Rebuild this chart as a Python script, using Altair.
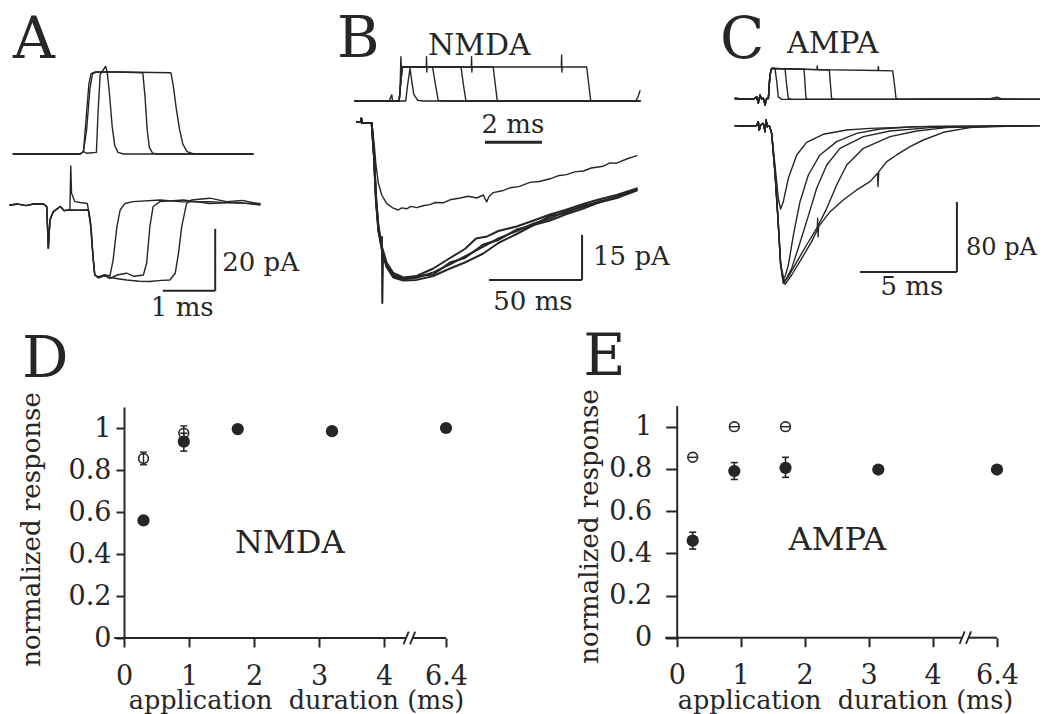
import altair as alt
import pandas as pd

FONT = "DejaVu Serif"
INK = "#262626"

# ---------------- Panel A : stimulus (top) and open-tip currents (bottom) ----------------
# x in ms, command in normalized units, current in pA
A_cmd_1 = [(0.06, 0), (1.30, 0), (1.36, 0.03), (1.42, 0.01), (1.60, 0.02), (1.63, 0.5), (1.67, 0.97),
           (1.70, 1.0), (1.77, 1.07), (1.80, 1.0), (1.84, 0.75), (1.89, 0.35), (1.94, 0.1), (2.0, 0.02),
           (2.1, 0), (4.5, 0)]
A_cmd_2 = [(0.06, 0), (1.30, 0), (1.36, 0.03), (1.42, 0.3), (1.48, 0.8), (1.53, 0.98), (1.60, 1.0),
           (2.0, 1.0), (2.46, 0.99), (2.50, 0.7), (2.54, 0.3), (2.58, 0.08), (2.64, 0.01), (2.75, 0), (4.5, 0)]
A_cmd_3 = [(0.06, 0), (1.30, 0), (1.36, 0.03), (1.40, 0.35), (1.46, 0.85), (1.50, 0.98), (1.58, 1.0),
           (2.0, 1.0), (2.98, 0.99), (3.02, 0.85), (3.08, 0.55), (3.14, 0.3), (3.2, 0.12), (3.28, 0.03),
           (3.4, 0), (4.5, 0)]

A_cur_pre = [(0, 0), (0.15, 0.3), (0.3, -0.2), (0.45, 0.4), (0.62, 0.3), (0.68, -0.5), (0.71, -14),
             (0.74, -4.8), (0.80, -2.2), (0.93, -0.5), (1.0, -1.8), (1.11, -1.6)]
A_cur_1 = A_cur_pre + [(1.125, 12.6), (1.14, 3.8), (1.20, 1.1), (1.30, 0.8), (1.43, 0.5), (1.48, -4),
                       (1.51, -9.1), (1.54, -17.7), (1.57, -22.6), (1.64, -23.1), (1.75, -22.5),
                       (1.85, -22.9), (1.91, -17.7), (1.98, -7), (2.04, -1.6), (2.13, 0.5), (2.28, 1.1),
                       (2.78, 1.6), (3.2, 1.0), (3.70, 1.1), (4.2, 0.6), (4.63, 0.5)]
A_cur_2 = A_cur_pre + [(1.25, -1.7), (1.45, -1.6), (1.49, -6), (1.53, -15), (1.57, -22.6), (1.64, -23.5),
                       (1.75, -22.8), (1.85, -23.7), (2.0, -22.5), (2.16, -22), (2.3, -23), (2.47, -22.6),
                       (2.53, -18.8), (2.59, -7), (2.65, -0.5), (2.78, 1.1), (3.21, 1.6), (3.70, 0.5),
                       (4.2, 0.9), (4.63, 0)]
A_cur_3 = A_cur_pre + [(1.25, -1.7), (1.45, -1.6), (1.49, -6), (1.53, -15), (1.57, -22.6), (1.64, -23.5),
                       (1.75, -22.8), (1.85, -23.4), (2.0, -23.8), (2.16, -24.2), (2.4, -24.6), (2.59, -24.7),
                       (2.8, -24.3), (2.96, -24.2), (3.06, -22), (3.12, -15.6), (3.18, -7), (3.27, 0.5),
                       (3.36, 1.6), (3.70, 2.2), (4.01, 1.1), (4.3, 1.5), (4.63, 0.3)]

# ---------------- Panel B : NMDA ----------------
# command: x in ms (fast time base), current: x in ms (slow time base), pA
B_cmd_1 = [(0, 0), (1.2, 0), (1.29, 0.18), (1.32, 0), (1.78, 0), (1.85, 0.5), (1.93, 0.96), (1.99, 0.6),
           (2.06, 0.2), (2.2, 0.02), (2.4, 0), (10, 0)]
B_cmd_2 = [(0, 0), (1.55, 0), (1.60, 0.5), (1.66, 1.0), (2.72, 1.0), (2.82, 0.5), (2.92, 0.02), (3.1, 0), (10, 0)]
B_cmd_3 = [(0, 0), (1.55, 0), (1.60, 0.5), (1.66, 1.0), (3.72, 1.0), (3.80, 0.5), (3.89, 0.02), (4.0, 0), (10, 0)]
B_cmd_4 = [(0, 0), (1.55, 0), (1.60, 0.5), (1.66, 1.0), (4.85, 1.0), (4.92, 0.5), (4.99, 0.02), (5.1, 0), (10, 0)]
B_cmd_5 = [(0, 0), (1.55, 0), (1.58, 0.3), (1.61, 1.3), (1.63, 0.9), (1.68, 1.0), (2.50, 1.0), (2.51, 1.3),
           (2.52, 0.85), (2.53, 1.0), (4.08, 1.0), (4.09, 1.3), (4.10, 0.85), (4.11, 1.0), (7.24, 1.0),
           (7.25, 1.35), (7.26, 0.85), (7.27, 1.0), (8.13, 1.0), (8.20, 0.5), (8.27, 0.02), (8.4, 0),
           (9.85, 0), (9.92, 0.1), (10.0, 0.3)]

B_cur_start = [(0, 0.3), (2, 0.3), (2.3, 1.5), (2.6, 0), (5, 0), (7.9, 0)]
B_cur_1 = B_cur_start + [(9.1, -10.7), (10.2, -25.1), (11.5, -35.1), (13.3, -41.8), (15.9, -47.3), (19.5, -50.7),
                         (24.9, -52), (32.1, -51.6), (41.0, -49.8), (50.0, -47.1), (58, -44.5), (67.9, -41.2),
                         (76, -38.5), (85.8, -36), (95, -33.5), (103.8, -31.8), (112, -29.5), (121.7, -27.9),
                         (130, -26.2), (139.6, -24.9), (150.4, -22.3)]
B_cur_2 = B_cur_start + [(9.1, -10), (10.2, -24), (11.5, -34), (13.3, -41), (15.9, -46.5), (19.5, -50),
                         (24.9, -51.5), (32.1, -51), (41, -48.5), (50, -45), (58, -42), (64, -38.5), (70, -37.8),
                         (76, -36), (85.8, -34.5), (95, -32.5), (103.8, -30.5), (112, -29), (121.7, -27),
                         (130, -25.5), (139.6, -24), (150.4, -21.8)]
B_cur_3 = B_cur_start + [(9.1, -11), (10.2, -26), (11.5, -36), (12.8, -40), (13.4, -38), (13.6, -60), (14.0, -44),
                         (15.9, -48), (19.5, -51.5), (24.9, -52.5), (32.1, -52.3), (41, -51), (50, -48.5),
                         (58, -46.5), (67.9, -43.5), (76, -40), (85.8, -37), (95, -34), (103.8, -32.5),
                         (112, -30.5), (121.7, -28.5), (130, -26.5), (139.6, -25), (150.4, -22.5)]
B_cur_4 = B_cur_start + [(9.1, -10.5), (10.2, -25.5), (11.5, -35.5), (13.3, -42), (15.9, -47.8), (19.5, -51),
                         (24.9, -52.2), (32.1, -51), (41, -50.5), (50, -46.5), (58, -45), (67.9, -40.5), (76, -39),
                         (85.8, -35.5), (95, -34), (103.8, -31), (112, -30), (121.7, -27.5), (130, -26.5),
                         (139.6, -24.5), (150.4, -22)]
B_cur_short = B_cur_start + [(9.1, -6.2), (10.2, -14), (11.5, -20.1), (13.3, -24), (15.9, -26.8), (19.5, -28.4),
                             (22.2, -29), (24, -28.3), (26.7, -28.6), (29, -27.8), (32.1, -28.2), (36, -27.5),
                             (39.2, -27.2), (42, -26.5), (46.4, -26.6), (50, -25.6), (55.4, -25), (60, -24.4),
                             (64.3, -25), (67.9, -24), (69.7, -26.3), (71, -24.5), (73.3, -23.2), (78, -22.6),
                             (82.3, -21.6), (87, -21.2), (93, -19.8), (98, -19.5), (103.8, -18.6), (108, -17.6),
                             (112.7, -17.2), (117, -16.3), (121.7, -16), (126, -15), (132.4, -14.4), (136, -13.3),
                             (139.6, -13.4), (145, -12), (150.4, -10.9)]

# ---------------- Panel C : AMPA ----------------
C_cmd_start = [(0, 0.05), (0.5, 0.03), (0.95, 0.03), (1.12, 0.1), (1.2, -0.1), (1.29, 0.16), (1.37, 0.03),
               (1.46, 0.06), (1.55, -0.16), (1.63, 0.05), (1.72, 0.05), (1.80, 0.8), (1.89, 1.02)]
C_cmd_1 = C_cmd_start + [(2.06, 1.02), (2.15, 0.6), (2.23, 0.1), (2.41, 0.02), (15.72, 0.02)]
C_cmd_2 = C_cmd_start + [(2.58, 1.0), (2.66, 0.5), (2.75, 0.05), (2.9, 0.02), (15.72, 0.02)]
C_cmd_3 = C_cmd_start + [(3.56, 0.99), (3.61, 0.5), (3.66, 0.05), (3.8, 0.02), (15.72, 0.02)]
C_cmd_4 = C_cmd_start + [(4.86, 0.97), (4.92, 0.5), (4.98, 0.05), (5.1, 0.02), (15.72, 0.02)]
C_cmd_5 = C_cmd_start + [(4.22, 0.98), (4.24, 1.1), (4.26, 0.98), (7.37, 0.95), (7.39, 1.08), (7.41, 0.95),
                         (8.13, 0.94), (8.22, 0.5), (8.30, 0.05), (8.5, 0.02), (10.05, 0.03), (12.5, 0.03),
                         (13.2, 0.05), (13.49, 0.09), (13.8, 0.03), (15.72, 0.02)]

C_cur_start = [(0, 0.4), (0.5, 0), (1.12, 0.4), (1.20, 5), (1.25, -4.6), (1.32, 1.1), (1.46, 3), (1.55, -6.5),
               (1.60, 6.9), (1.67, -0.8), (1.77, 0.4), (1.84, -4.6), (1.89, -8.4)]
C_cur_1 = C_cur_start + [(2.06, -44.6), (2.23, -82.7), (2.35, -94.9), (2.49, -86.5), (2.75, -59.8), (3.18, -33.1),
                         (3.69, -18.7), (4.55, -9.5), (5.76, -4.6), (6.96, -2.7), (10.05, -0.4), (15.72, 0.4)]
C_cur_2 = C_cur_start + [(2.06, -52.2), (2.23, -109.3), (2.35, -155), (2.46, -174.1), (2.58, -172.2),
                         (2.75, -158.9), (3.01, -124.6), (3.35, -86.5), (3.78, -56), (4.38, -33.1), (5.24, -17.9),
                         (6.27, -8.4), (7.47, -3.4), (9.19, -0.8), (15.72, 0.4)]
C_cur_3 = C_cur_start + [(2.06, -53), (2.23, -112), (2.35, -158), (2.49, -177.9), (2.66, -174.1), (2.92, -162.7),
                         (3.26, -139.8), (3.69, -109.3), (4.21, -71.2), (4.73, -44.6), (5.41, -25.5),
                         (6.62, -12.2), (7.99, -5.7), (10.05, -1.9), (15.72, 0.4)]
C_cur_4 = C_cur_start + [(2.06, -53), (2.23, -112), (2.35, -158), (2.49, -179.8), (2.75, -172.2), (3.09, -158.9),
                         (3.69, -136), (4.21, -117), (4.73, -94.1), (5.24, -67.4), (5.76, -44.6), (6.62, -25.5),
                         (7.99, -12.2), (9.36, -5.7), (10.91, -1.9), (15.72, 0.4)]
C_cur_5 = C_cur_start + [(2.06, -53), (2.23, -112), (2.35, -158), (2.58, -181), (2.92, -170.3), (3.44, -151.2),
                         (3.95, -132.2), (4.24, -118.9), (4.26, -105.5), (4.28, -126.5), (4.31, -115),
                         (4.90, -97.9), (5.58, -84.6), (6.27, -73.1), (6.96, -63.6), (7.35, -54.1),
                         (7.37, -69.3), (7.41, -52.2), (7.82, -40.8), (8.33, -33.1), (9.02, -23.6),
                         (9.71, -16), (10.74, -7.2), (12.11, -1.9), (13.49, 0), (15.72, 0.4)]

# ---------------- Panels D / E : normalized response vs application duration ----------------
D_dur = [0.3, 0.92, 1.75, 3.2, 6.4]
D_filled = [0.56, 0.935, 0.995, 0.985, 1.0]
D_filled_err_x = [0.92]
D_filled_lo = [0.89]
D_filled_hi = [0.975]
D_open_dur = [0.3, 0.92]
D_open = [0.855, 0.975]
D_open_lo = [0.825, 0.955]
D_open_hi = [0.885, 1.01]

E_dur = [0.25, 0.9, 1.7, 3.15, 6.4]
E_filled = [0.46, 0.79, 0.805, 0.797, 0.797]
E_filled_err_x = [0.25, 0.9, 1.7]
E_filled_lo = [0.42, 0.75, 0.76]
E_filled_hi = [0.50, 0.83, 0.855]
E_open_dur = [0.25, 0.9, 1.7]
E_open = [0.855, 1.0, 1.0]

X_TICKS = [0, 1, 2, 3, 4, 6.4]
Y_TICKS = [0, 0.2, 0.4, 0.6, 0.8, 1.0]

W = 1032  # drawing width (page is 1048 with 8px margins)
H = 706   # drawing height (page is 714 with an 8px top margin)


# ---------------- helpers ----------------
def S(domain, rng):
    return alt.Scale(domain=domain, range=rng, nice=False, zero=False)


def lines(traces, xs, ys, w=1.4):
    rows = []
    for name, pts in traces.items():
        for i, (x, y) in enumerate(pts):
            rows.append({"trace": name, "i": i, "x": x, "y": y})
    return alt.Chart(pd.DataFrame(rows)).mark_line(
        color=INK, strokeWidth=w, strokeJoin="round", strokeCap="round"
    ).encode(
        x=alt.X("x:Q", scale=xs, axis=None),
        y=alt.Y("y:Q", scale=ys, axis=None),
        detail="trace:N",
        order="i:Q",
    )


def rules(segs, xs, ys, w=2.0, color=INK, **kw):
    df = pd.DataFrame(segs, columns=["x", "y", "x2", "y2"])
    return alt.Chart(df).mark_rule(color=color, strokeWidth=w, **kw).encode(
        x=alt.X("x:Q", scale=xs, axis=None),
        y=alt.Y("y:Q", scale=ys, axis=None),
        x2="x2:Q",
        y2="y2:Q",
    )


def texts(items, xs, ys, align, baseline="alphabetic"):
    df = pd.DataFrame(items, columns=["x", "y", "label", "fs"])
    return alt.Chart(df).mark_text(font=FONT, color=INK, align=align, baseline=baseline).encode(
        x=alt.X("x:Q", scale=xs, axis=None),
        y=alt.Y("y:Q", scale=ys, axis=None),
        text="label:N",
        size=alt.Size("fs:Q", scale=None, legend=None),
    )


def x_axis(offset, title_x, title_y):
    return alt.Axis(
        orient="bottom", offset=offset, values=X_TICKS, labelExpr="datum.value + ''",
        domain=False, ticks=True, tickSize=9, tickWidth=2, tickColor=INK,
        labelFont=FONT, labelFontSize=27, labelColor=INK, labelPadding=16,
        labelFlush=False, labelOverlap=False, grid=False,
        title="application\u00a0\u00a0duration (ms)", titleFont=FONT, titleFontSize=25.5,
        titleFontWeight="normal", titleColor=INK, titleX=title_x, titleY=title_y,
        titleAlign="center", titleBaseline="alphabetic", titleAngle=0,
    )


def y_axis(offset, tick, pad, title_x, title_y):
    return alt.Axis(
        orient="left", offset=offset, values=Y_TICKS,
        labelExpr="datum.value == 0 ? '0' : datum.value == 1 ? '1' : format(datum.value, '.1f')",
        domain=True, domainColor=INK, domainWidth=2, ticks=True, tickSize=tick, tickWidth=2,
        tickColor=INK, labelFont=FONT, labelFontSize=27, labelColor=INK, labelPadding=pad,
        labelOverlap=False, grid=False,
        title="normalized response", titleFont=FONT, titleFontSize=26, titleFontWeight="normal",
        titleColor=INK, titleX=title_x, titleY=title_y, titleAngle=270, titleAlign="center",
        titleBaseline="alphabetic",
    )


def scatter_panel(xs, ys, dur, filled, fx, flo, fhi, odur, oval, olo, ohi, xax, yax,
                  axis_segs, break_segs, name, name_xy, letter_xy, theta):
    layers = []
    # x axis line with a break
    layers.append(rules(axis_segs, xs, ys, w=2))
    layers.append(rules(break_segs, xs, ys, w=1.8))
    # error bars of filled points
    fe = pd.DataFrame({"x": fx, "lo": flo, "hi": fhi})
    layers.append(alt.Chart(fe).mark_rule(color=INK, strokeWidth=1.6).encode(
        x=alt.X("x:Q", scale=xs, axis=None), y=alt.Y("lo:Q", scale=ys, axis=None), y2="hi:Q"))
    caps = pd.DataFrame({"x": fx + fx, "y": flo + fhi})
    layers.append(alt.Chart(caps).mark_rule(color=INK, strokeWidth=1.6, xOffset=-3.5, x2Offset=3.5).encode(
        x=alt.X("x:Q", scale=xs, axis=None), x2="x:Q", y=alt.Y("y:Q", scale=ys, axis=None)))
    # open points
    od = pd.DataFrame({"x": odur, "y": oval})
    if theta:
        layers.append(alt.Chart(od).mark_rule(color=INK, strokeWidth=1.4, xOffset=-4.5, x2Offset=4.5).encode(
            x=alt.X("x:Q", scale=xs, axis=None), x2="x:Q", y=alt.Y("y:Q", scale=ys, axis=None)))
    else:
        oe = pd.DataFrame({"x": odur, "lo": olo, "hi": ohi})
        layers.append(alt.Chart(oe).mark_rule(color=INK, strokeWidth=1.4).encode(
            x=alt.X("x:Q", scale=xs, axis=None), y=alt.Y("lo:Q", scale=ys, axis=None), y2="hi:Q"))
        oc = pd.DataFrame({"x": odur + odur, "y": olo + ohi})
        layers.append(alt.Chart(oc).mark_rule(color=INK, strokeWidth=1.4, xOffset=-3.5, x2Offset=3.5).encode(
            x=alt.X("x:Q", scale=xs, axis=None), x2="x:Q", y=alt.Y("y:Q", scale=ys, axis=None)))
    layers.append(alt.Chart(od).mark_point(shape="circle", filled=False, size=95, color=INK,
                                           strokeWidth=1.6, opacity=1).encode(
        x=alt.X("x:Q", scale=xs, axis=None), y=alt.Y("y:Q", scale=ys, axis=None)))
    # filled points carry the axes
    fd = pd.DataFrame({"x": dur, "y": filled})
    layers.append(alt.Chart(fd).mark_point(shape="circle", filled=True, size=150, color=INK,
                                           opacity=1).encode(
        x=alt.X("x:Q", scale=xs, axis=xax), y=alt.Y("y:Q", scale=ys, axis=yax)))
    layers.append(texts([(name_xy[0], name_xy[1], name, 32)], xs, ys, "center"))
    layers.append(texts([(letter_xy[0], letter_xy[1], letter_xy[2], 58)], xs, ys, "left"))
    return layers


# ---------------- scales (placement of each panel on the page) ----------------
A_X = S([0, 4.6], [2, 250.4])
A_Y = S([-30, 5], [290, 181.5])
A_CY = S([0, 1], [146, 64])

B_X = S([0, 160], [349, 646.6])
B_Y = S([-65, 10], [310, 85])
B_CX = S([0, 10], [347, 632])
B_CY = S([0, 1], [93, 59])

C_X = S([0, 16], [727, 1037.4])
C_Y = S([-200, 20], [293, 100.5])
C_CY = S([0, 1], [92, 61])

D_X = S([-0.15, 4.5, 6.4], [106.25, 408.5, 438])
D_Y = S([0, 1.1], [630, 399])
E_X = S([-0.18, 4.6, 6.4], [657.2, 963.1, 989])
E_Y = S([0, 1.1], [629.7, 397.6])

layers = []

# Panel A
layers.append(lines({"a1": A_cmd_1, "a2": A_cmd_2, "a3": A_cmd_3}, A_X, A_CY, 1.4))
layers.append(lines({"c1": A_cur_1, "c2": A_cur_2, "c3": A_cur_3}, A_X, A_Y, 1.4))
layers.append(rules([(3.80, -7.7, 3.80, -27.7), (2.83, -27.7, 3.80, -27.7)], A_X, A_Y, 2))
layers.append(texts([(0.056, 47.4, "A", 58), (3.93, -21.3, "20 pA", 26)], A_X, A_Y, "left"))
layers.append(texts([(3.19, -35.8, "1 ms", 26)], A_X, A_Y, "center"))

# Panel B
layers.append(lines({"p1": B_cmd_1, "p2": B_cmd_2, "p3": B_cmd_3, "p4": B_cmd_4, "p5": B_cmd_5},
                    B_CX, B_CY, 1.4))
layers.append(lines({"l1": B_cur_1, "l2": B_cur_2, "l3": B_cur_3, "l4": B_cur_4}, B_X, B_Y, 2.0))
layers.append(lines({"s": B_cur_short}, B_X, B_Y, 1.4))
layers.append(rules([(4.56, -1.21, 6.56, -1.21)], B_CX, B_CY, 3))
layers.append(rules([(121, -37.3, 121, -52.3), (71, -52.3, 121, -52.3)], B_X, B_Y, 2))
layers.append(texts([(-0.63, 1.29, "B", 58), (2.56, 1.35, "NMDA", 30)], B_CX, B_CY, "left"))
layers.append(texts([(5.54, -0.94, "2 ms", 26)], B_CX, B_CY, "center"))
layers.append(texts([(126.9, -47.3, "15 pA", 26)], B_X, B_Y, "left"))
layers.append(texts([(94.6, -62.3, "50 ms", 26)], B_X, B_Y, "center"))

# Panel C
layers.append(lines({"q1": C_cmd_1, "q2": C_cmd_2, "q3": C_cmd_3, "q4": C_cmd_4, "q5": C_cmd_5},
                    C_X, C_CY, 1.4))
layers.append(lines({"r1": C_cur_1, "r2": C_cur_2, "r3": C_cur_3, "r4": C_cur_4, "r5": C_cur_5},
                    C_X, C_Y, 1.4))
layers.append(rules([(11.44, -86.9, 11.44, -166.9), (6.44, -166.9, 11.44, -166.9)], C_X, C_Y, 2))
layers.append(texts([(11.91, -147.4, "80 pA", 24)], C_X, C_Y, "left"))
layers.append(texts([(9.12, -193.1, "5 ms", 26)], C_X, C_Y, "center"))
layers.append(texts([(-0.77, 1.35, "C", 58), (2.68, 1.52, "AMPA", 30)], C_X, C_CY, "left"))

# Panel D
layers += scatter_panel(
    D_X, D_Y, D_dur, D_filled, D_filled_err_x, D_filled_lo, D_filled_hi,
    D_open_dur, D_open, D_open_lo, D_open_hi,
    x_axis(630 - H, 288, 70), y_axis(-116, 8, 5, -85, 521),
    [(-0.15, 0, 4.34, 0), (4.44, 0, 6.4, 0)],
    [(4.30, -0.03, 4.38, 0.03), (4.40, -0.03, 4.48, 0.03)],
    "NMDA", (2.55, 0.405), (-1.57, 1.243, "D"), theta=False)

# Panel E
layers += scatter_panel(
    E_X, E_Y, E_dur, E_filled, E_filled_err_x, E_filled_lo, E_filled_hi,
    E_open_dur, E_open, None, None,
    x_axis(629.7 - H, 837, 70.3), y_axis(-668.7, 11, 14, -79, 518),
    [(-0.18, 0, 4.46, 0), (4.56, 0, 6.4, 0)],
    [(4.42, -0.03, 4.50, 0.03), (4.52, -0.03, 4.60, 0.03)],
    "AMPA", (2.51, 0.416), (-1.46, 1.245, "E"), theta=True)

chart = alt.layer(*layers).resolve_scale(x="independent", y="independent").properties(
    width=W, height=H, autosize=alt.AutoSizeParams(type="none"), padding=0,
    background="white",
).configure_view(stroke=None)

chart.save("out.html", embed_options={"renderer": "svg", "actions": False})
